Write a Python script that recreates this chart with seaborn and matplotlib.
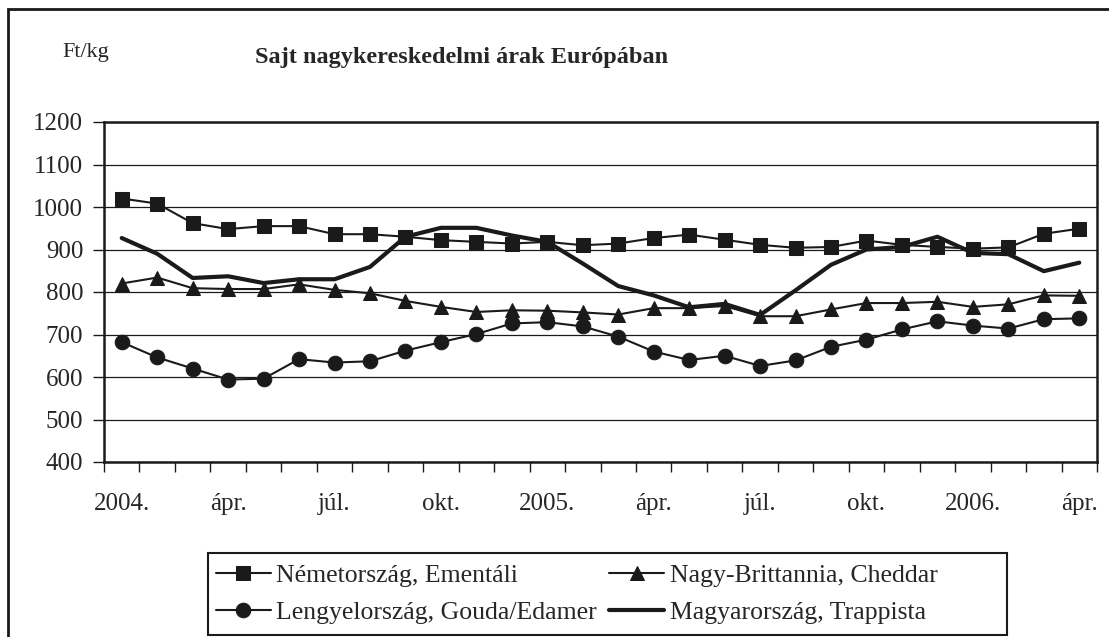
import pandas as pd
import seaborn as sns
import matplotlib.pyplot as plt
from matplotlib.patches import Rectangle

sns.set_theme(style="white")
plt.rcParams['font.family'] = ['Liberation Serif', 'DejaVu Serif']

# monthly data, 2004 jan .. 2006 apr
months = list(range(28))
tick_labels = ["2004.", "ápr.", "júl.", "okt.", "2005.", "ápr.", "júl.", "okt.", "2006.", "ápr."]

nemet = [1020, 1008, 962, 948, 955, 955, 936, 936, 930, 922, 918, 914, 918, 910, 914, 927,
         935, 923, 911, 904, 906, 921, 911, 906, 902, 905, 937, 949]
brit = [820, 834, 809, 807, 807, 818, 805, 797, 779, 765, 753, 757, 756, 752, 747, 762,
        762, 767, 743, 743, 759, 774, 774, 777, 765, 771, 792, 791]
lengyel = [682, 646, 620, 594, 596, 642, 634, 637, 662, 682, 701, 726, 729, 719, 695, 660,
           640, 650, 626, 639, 671, 688, 712, 731, 721, 714, 736, 738]
magyar = [927, 890, 833, 837, 821, 830, 830, 859, 930, 951, 951, 933, 918, 867, 814, 792,
          764, 772, 746, 804, 864, 900, 906, 930, 892, 889, 849, 869]

df = pd.DataFrame({"honap": months, "nemet": nemet, "brit": brit,
                   "lengyel": lengyel, "magyar": magyar})

fig = plt.figure(figsize=(11.09, 6.37), dpi=100)
ax = fig.add_axes([104/1109, 1-462/637, (1097-104)/1109, (462-122)/637])

sns.lineplot(data=df, x="honap", y="nemet", ax=ax, color="k", lw=1.5, marker="s",
             markersize=9.5, markeredgecolor="k", label="Németország, Ementáli")
sns.lineplot(data=df, x="honap", y="lengyel", ax=ax, color="k", lw=1.5, marker="o",
             markersize=10.5, markeredgecolor="k", label="Lengyelország, Gouda/Edamer")
sns.lineplot(data=df, x="honap", y="brit", ax=ax, color="k", lw=1.5, marker="^",
             markersize=10.5, markeredgecolor="k", label="Nagy-Brittannia, Cheddar")
sns.lineplot(data=df, x="honap", y="magyar", ax=ax, color="k", lw=3,
             label="Magyarország, Trappista")

ax.set_xlim(-0.5, 27.5)
ax.set_ylim(400, 1200)
ax.set_yticks(range(400, 1201, 100))
ax.yaxis.grid(True, color="k", lw=0.9)
ax.set_axisbelow(True)
ax.set_xticks(months[::3])
ax.set_xticklabels(tick_labels)
ax.set_xticks([i - 0.5 for i in range(29)], minor=True)
ax.tick_params(axis="x", which="major", length=0, pad=22, labelsize=18)
ax.tick_params(axis="x", which="minor", length=7, width=1, color="k", direction="out", bottom=True)
ax.tick_params(axis="y", length=8, width=1, color="k", direction="out", left=True, labelsize=18, pad=7)
for s in ax.spines.values():
    s.set_color("k")
    s.set_linewidth(1.8)
ax.set(xlabel="", ylabel="")

handles, labels = ax.get_legend_handles_labels()
ax.legend().remove()
leg = fig.legend(handles, labels, ncol=2, loc="upper left",
                 bbox_to_anchor=(208/1109, 1-556/637),
                 fontsize=18.5, frameon=False,
                 handlelength=2.14, handletextpad=0.2, borderpad=0.3,
                 labelspacing=0.55, columnspacing=0.5, borderaxespad=0)
# legend box is wider than its entries
fig.patches.append(Rectangle((208/1109, 1-635/637), (1007-208)/1109, (635-553)/637,
                             transform=fig.transFigure, fill=False, edgecolor="k", lw=1.5))

fig.text(62/1109, 1-53/637, "Ft/kg", fontsize=16, va="center", ha="left")
fig.text(462/1109, 1-57/637, "Sajt nagykereskedelmi árak Európában", fontsize=17.5,
         fontweight="bold", va="center", ha="center")

fig.patches.append(Rectangle((8/1109, -0.1), 1.2, 1.1 - 9/637, transform=fig.transFigure,
                             fill=False, edgecolor="k", lw=2))

fig.savefig("out.png", dpi=100)
